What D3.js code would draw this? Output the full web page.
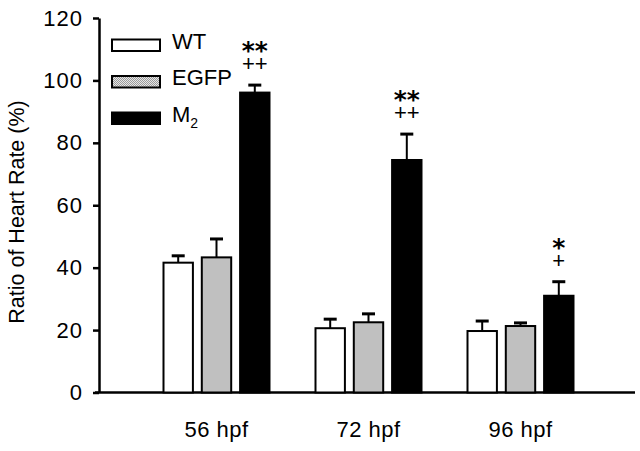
<!DOCTYPE html>
<html>
<head>
<meta charset="utf-8">
<script src="https://cdn.jsdelivr.net/npm/d3@7"></script>
<style>
html, body { margin: 0; padding: 0; background: #fff; }
svg { display: block; }
text { font-family: "Liberation Sans", Arial, sans-serif; fill: #000; }
</style>
</head>
<body>
<svg id="chart" width="640" height="451"></svg>
<script>
// ---- data ----
const categories = ["56 hpf", "72 hpf", "96 hpf"];
const seriesKeys = ["WT", "EGFP", "M2"];
const wtValues   = [41.6, 20.6, 19.7];
const wtErrors   = [2.2, 2.9, 3.2];
const egfpValues = [43.3, 22.5, 21.3];
const egfpErrors = [5.9, 2.7, 1.0];
const m2Values   = [96.1, 74.5, 31.0];
const m2Errors   = [2.4, 8.3, 4.5];
const starLabels = ["**", "**", "*"];
const plusLabels = ["++", "++", "+"];
const yTicks = [0, 20, 40, 60, 80, 100, 120];
const yTitle = "Ratio of Heart Rate (%)";

const values = { WT: wtValues, EGFP: egfpValues, M2: m2Values };
const errors = { WT: wtErrors, EGFP: egfpErrors, M2: m2Errors };

const svg = d3.select("#chart");
const FONT = "'Liberation Sans', Arial, sans-serif";

// stipple pattern for EGFP
const defs = svg.append("defs");
const pat = defs.append("pattern").attr("id", "stipple")
  .attr("width", 2).attr("height", 2).attr("patternUnits", "userSpaceOnUse");
pat.append("rect").attr("width", 2).attr("height", 2).attr("fill", "#e6e6e6");
pat.append("rect").attr("x", 0).attr("y", 0).attr("width", 1).attr("height", 1).attr("fill", "#9a9a9a");
pat.append("rect").attr("x", 1).attr("y", 1).attr("width", 1).attr("height", 1).attr("fill", "#9a9a9a");

const fills = { WT: "#ffffff", EGFP: "url(#stipple)", M2: "#000000" };

// ---- scales ----
const y = d3.scaleLinear().domain([0, 120]).range([392.5, 18]);
const x0 = d3.scaleBand().domain(categories).range([140.5, 596.5]).paddingInner(0).paddingOuter(0);
const x1 = d3.scaleBand().domain(seriesKeys)
  .range([x0.bandwidth() / 2 - 54, x0.bandwidth() / 2 + 54]).paddingInner(0.18);

// ---- y axis ----
const yAxis = svg.append("g").attr("transform", "translate(99,0)")
  .call(d3.axisLeft(y).tickValues(yTicks).tickSize(6).tickSizeOuter(0).tickPadding(10));
yAxis.select(".domain").attr("stroke", "#000").attr("stroke-width", 2.5);
yAxis.selectAll(".tick line").attr("stroke", "#000").attr("stroke-width", 2.5);
yAxis.selectAll(".tick text").style("font-size", "22px").style("font-family", FONT)
  .style("letter-spacing", "1px").attr("fill", "#000");

// baseline
svg.append("line").attr("x1", 95).attr("x2", 635).attr("y1", y(0)).attr("y2", y(0))
  .attr("stroke", "#000").attr("stroke-width", 2.5);

// ---- x axis labels ----
const xAxis = svg.append("g").attr("transform", `translate(0,${y(0)})`)
  .call(d3.axisBottom(x0).tickSize(0).tickPadding(29));
xAxis.select(".domain").remove();
xAxis.selectAll(".tick text").style("font-size", "22px").style("font-family", FONT)
  .style("letter-spacing", "0.5px").attr("fill", "#000");

// ---- bars ----
const groups = svg.append("g").selectAll("g").data(categories).join("g")
  .attr("transform", d => `translate(${x0(d)},0)`);

groups.each(function(cat, ci) {
  const g = d3.select(this);
  seriesKeys.forEach(k => {
    const v = values[k][ci], e = errors[k][ci];
    const bx = x1(k), bw = x1.bandwidth(), cx = bx + bw / 2;
    // error bar
    g.append("line").attr("x1", cx).attr("x2", cx).attr("y1", y(v)).attr("y2", y(v + e))
      .attr("stroke", "#000").attr("stroke-width", 2);
    g.append("line").attr("x1", cx - 6.5).attr("x2", cx + 6.5).attr("y1", y(v + e)).attr("y2", y(v + e))
      .attr("stroke", "#000").attr("stroke-width", 3);
    g.append("rect").attr("x", bx + 1).attr("y", y(v)).attr("width", bw - 2).attr("height", y(0) - y(v))
      .attr("fill", fills[k]).attr("stroke", "#000").attr("stroke-width", 2);
  });
  // significance marks above M2 (one text: stars line, then plus line)
  const cx = x1("M2") + x1.bandwidth() / 2;
  const top = y(m2Values[ci] + m2Errors[ci]);
  const t = g.append("text").attr("x", cx).attr("y", top - 26).attr("text-anchor", "middle");
  t.append("tspan").attr("x", cx).style("font-family", "'DejaVu Sans', sans-serif")
    .style("font-weight", "bold").style("font-size", "25px").text(starLabels[ci]);
  t.append("tspan").attr("x", cx).attr("dy", 12).style("font-family", FONT)
    .style("font-size", "22px").text(plusLabels[ci]);
});

// ---- legend ----
const legend = svg.append("g");
seriesKeys.forEach((k, i) => {
  const ly = 39.5 + i * 36.5;
  legend.append("rect").attr("x", 112).attr("y", ly).attr("width", 48).attr("height", 11.5)
    .attr("fill", fills[k]).attr("stroke", "#000").attr("stroke-width", 2);
  const t = legend.append("text").attr("x", 172).attr("y", ly + 9).style("font-size", "22px");
  if (k === "M2") {
    t.append("tspan").text("M");
    t.append("tspan").attr("dy", 6).style("font-size", "14px").text("2");
  } else {
    t.text(k);
  }
});

// ---- y title ----
svg.append("text").attr("transform", "translate(24,212) rotate(-90)")
  .attr("text-anchor", "middle").style("font-size", "21.5px").text(yTitle);
</script>
</body>
</html>
